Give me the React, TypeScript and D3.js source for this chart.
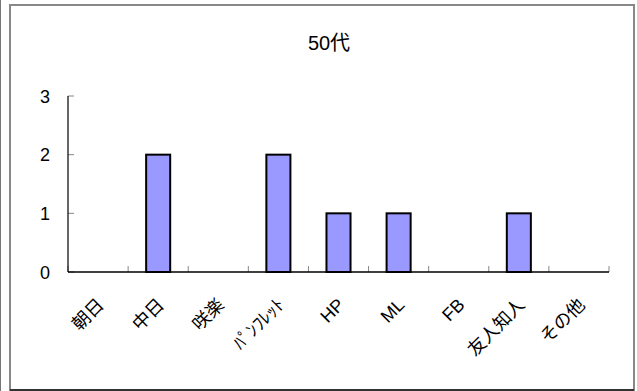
import React from "react";
import * as d3 from "d3";

const categories = ["朝日", "中日", "咲楽", "ﾊﾟﾝﾌﾚｯﾄ", "HP", "ML", "FB", "友人知人", "その他"];
const values = [0, 2, 0, 2, 1, 1, 0, 1, 0];
const yTicks = [0, 1, 2, 3];
const title = "50代";

const W = 637;
const H = 391;
const plot = { left: 68, right: 609, top: 96, bottom: 272 };
const font = "'Liberation Sans', 'Noto Sans CJK JP', sans-serif";

export default function App() {
  const x = d3
    .scaleBand<string>()
    .domain(categories)
    .range([plot.left, plot.right])
    .paddingInner(0)
    .paddingOuter(0);
  const y = d3.scaleLinear().domain([0, 3]).range([plot.bottom, plot.top]);
  const barW = x.bandwidth() * 0.4;

  return (
    <svg
      width={W}
      height={H}
      style={{ position: "absolute", left: 0, top: 0, background: "#fff" }}
      fontFamily={font}
    >
      <line x1={0.5} y1={0} x2={0.5} y2={H} stroke="#777" strokeWidth={1} />
      <rect x={10} y={5} width={624} height={385} fill="#fff" stroke="#888" strokeWidth={2} />
      <line x1={10} y1={390} x2={634} y2={390} stroke="#333" strokeWidth={2} />

      <text x={329} y={50} textAnchor="middle" fontSize={20} fill="#000">
        {title}
      </text>

      {/* y axis ticks and labels */}
      {yTicks.map((t) => (
        <g key={t}>
          <line x1={plot.left} x2={plot.left + 6} y1={y(t)} y2={y(t)} stroke="#888" strokeWidth={1} />
          <text x={50} y={y(t) + 6.5} textAnchor="end" fontSize={18} fill="#000">
            {t}
          </text>
        </g>
      ))}

      {/* category boundary ticks */}
      {categories.map((c) => (
        <line
          key={c}
          x1={x(c) ?? 0}
          x2={x(c) ?? 0}
          y1={plot.bottom}
          y2={plot.bottom - 6}
          stroke="#888"
          strokeWidth={1}
        />
      ))}
      <line x1={plot.right} x2={plot.right} y1={plot.bottom} y2={plot.bottom - 6} stroke="#888" strokeWidth={1} />

      {/* bars */}
      {categories.map((c, i) =>
        values[i] > 0 ? (
          <rect
            key={c}
            x={(x(c) ?? 0) + x.bandwidth() / 2 - barW / 2}
            y={y(values[i])}
            width={barW}
            height={y(0) - y(values[i])}
            fill="#9999ff"
            stroke="#000"
            strokeWidth={2}
          />
        ) : null
      )}

      {/* axes */}
      <line x1={plot.left} x2={plot.left} y1={plot.top} y2={plot.bottom} stroke="#000" strokeWidth={1.2} />
      <line x1={plot.left} x2={plot.right} y1={plot.bottom} y2={plot.bottom} stroke="#000" strokeWidth={1.5} />

      {/* rotated category labels */}
      {categories.map((c) => {
        const cx = (x(c) ?? 0) + x.bandwidth() / 2;
        return (
          <text
            key={c}
            transform={`translate(${cx + 7},${plot.bottom + 34}) rotate(-45)`}
            textAnchor="end"
            fontSize={18}
            fill="#000"
          >
            {c}
          </text>
        );
      })}
    </svg>
  );
}
